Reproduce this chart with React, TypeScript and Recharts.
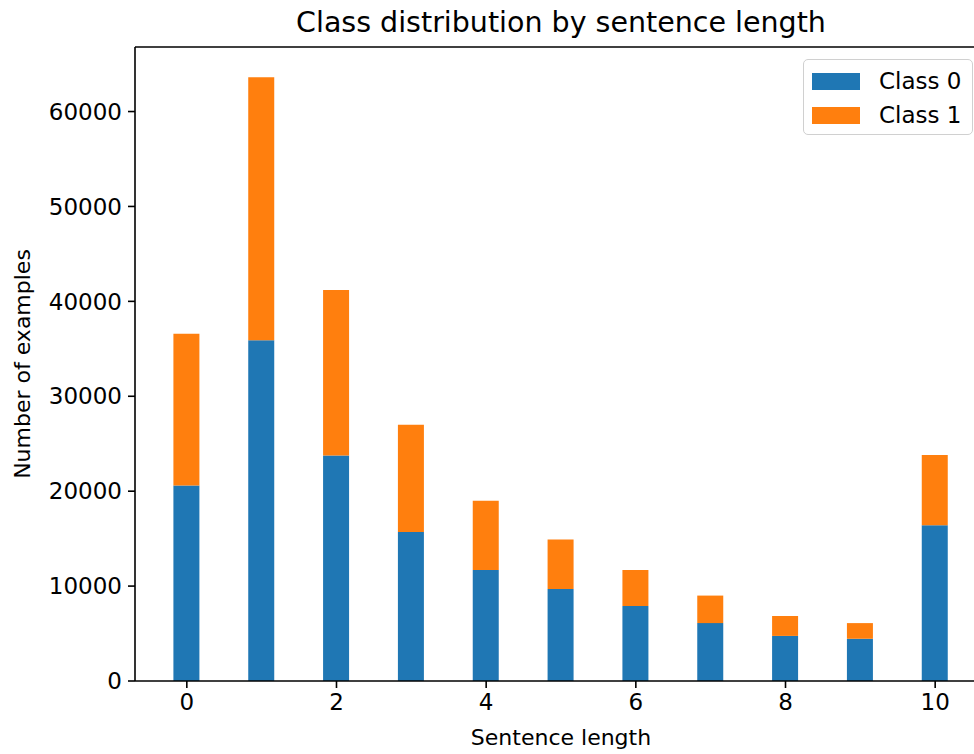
import React from "react";
import { BarChart, Bar, XAxis, YAxis, ReferenceLine, Label } from "recharts";

const lengths = [0, 1, 2, 3, 4, 5, 6, 7, 8, 9, 10];
const class0 = [20600, 35900, 23750, 15700, 11700, 9700, 7900, 6100, 4750, 4450, 16400];
const class1 = [16000, 27700, 17450, 11300, 7300, 5200, 3800, 2900, 2100, 1650, 7400];
const xTicks = [0, 2, 4, 6, 8, 10];
const yTicks = [0, 10000, 20000, 30000, 40000, 50000, 60000];
const seriesNames = ["Class 0", "Class 1"];

const Y_MAX = 66800;
const X_MIN = -0.6925;
const X_MAX = 10.6925;

const FONT = "DejaVu Sans";
const C0 = "#1f77b4";
const C1 = "#ff7f0e";

const data = lengths.map((len, i) => ({
  len,
  class0: class0[i],
  class1: class1[i],
}));

// legend drawn as an overlay so the chart doesn't reserve room for it
function LegendBox() {
  const colors = [C0, C1];
  return (
    <div
      style={{
        position: "absolute",
        left: 803,
        top: 59,
        width: 170,
        height: 76,
        boxSizing: "border-box",
        border: "1.5px solid #d0d0d0",
        borderRadius: 5,
        background: "rgba(255,255,255,0.8)",
        padding: "4px 0 0 8px",
        fontFamily: FONT,
        fontSize: 23,
        color: "#000",
      }}
    >
      {seriesNames.map((name, i) => (
        <div
          key={name}
          style={{ display: "flex", alignItems: "center", height: 34 }}
        >
          <span
            style={{
              display: "inline-block",
              width: 48,
              height: 17,
              background: colors[i],
              marginRight: 19,
            }}
          />
          <span>{name}</span>
        </div>
      ))}
    </div>
  );
}

export default function App() {
  return (
    <div
      style={{
        position: "absolute",
        left: 0,
        top: 0,
        width: 974,
        height: 754,
        overflow: "hidden",
        background: "#fff",
      }}
    >
      <div
        style={{
          position: "absolute",
          left: 0,
          width: 1122,
          top: 6,
          textAlign: "center",
          fontFamily: FONT,
          fontSize: 28.5,
          color: "#000",
        }}
      >
        Class distribution by sentence length
      </div>
      <BarChart
        width={1000}
        height={754}
        data={data}
        margin={{ top: 47, right: 13, left: 0, bottom: 0 }}
      >
        <XAxis
          dataKey="len"
          type="number"
          domain={[X_MIN, X_MAX]}
          ticks={xTicks}
          allowDataOverflow
          height={73}
          tickSize={7}
          tickMargin={6}
          stroke="#000"
          strokeWidth={1.6}
          tick={{ fill: "#000", fontFamily: FONT, fontSize: 23 }}
        >
          <Label
            value="Sentence length"
            position="insideBottom"
            offset={9}
            style={{ fill: "#000", fontFamily: FONT, fontSize: 22 }}
          />
        </XAxis>
        <YAxis
          type="number"
          domain={[0, Y_MAX]}
          ticks={yTicks}
          allowDataOverflow
          width={135}
          tickSize={7}
          tickMargin={6}
          stroke="#000"
          strokeWidth={1.6}
          tick={{ fill: "#000", fontFamily: FONT, fontSize: 23 }}
        >
          <Label
            content={({ viewBox }: any) => (
              <text
                x={22}
                y={viewBox.y + viewBox.height / 2}
                transform={`rotate(-90, 22, ${viewBox.y + viewBox.height / 2})`}
                textAnchor="middle"
                dominantBaseline="central"
                fill="#000"
                fontFamily={FONT}
                fontSize={22}
              >
                Number of examples
              </text>
            )}
          />
        </YAxis>
        <ReferenceLine y={Y_MAX} stroke="#000" strokeWidth={1.6} />
        <ReferenceLine x={X_MAX} stroke="#000" strokeWidth={1.6} />
        <Bar
          dataKey="class0"
          name={seriesNames[0]}
          stackId="a"
          fill={C0}
          barSize={26}
          isAnimationActive={false}
        />
        <Bar
          dataKey="class1"
          name={seriesNames[1]}
          stackId="a"
          fill={C1}
          barSize={26}
          isAnimationActive={false}
        />
      </BarChart>
      <LegendBox />
    </div>
  );
}
